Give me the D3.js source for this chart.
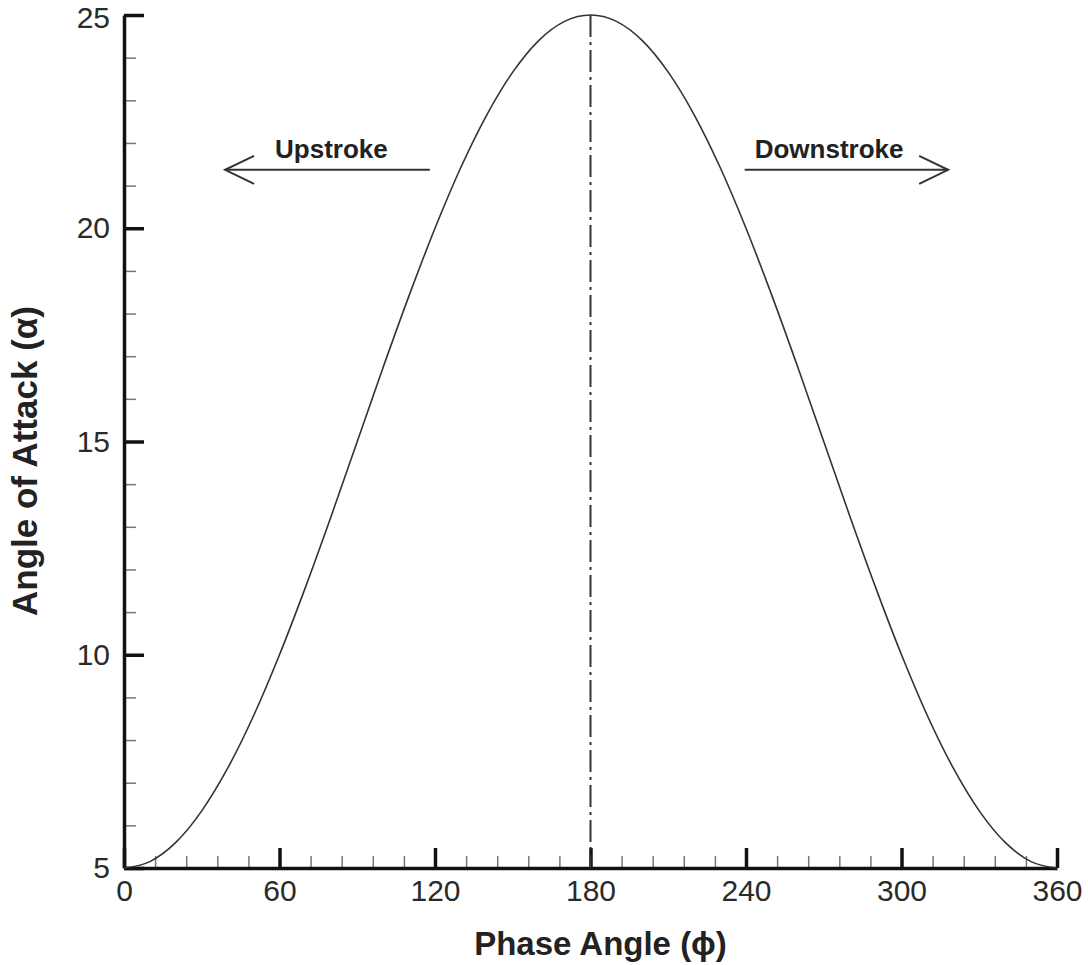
<!DOCTYPE html>
<html>
<head>
<meta charset="utf-8">
<script src="https://cdn.jsdelivr.net/npm/d3@7"></script>
<style>
  body { margin: 0; background: #fff; }
  svg { display: block; font-family: "Liberation Sans", Arial, sans-serif; }
</style>
</head>
<body>
<svg width="1088" height="965"></svg>
<script>
// phase angle (deg) vs angle of attack (deg)
var phase = [0, 10, 20, 30, 40, 50, 60, 70, 80, 90, 100, 110, 120, 130, 140, 150, 160, 170, 180,
             190, 200, 210, 220, 230, 240, 250, 260, 270, 280, 290, 300, 310, 320, 330, 340, 350, 360];
var alpha = [5.00, 5.15, 5.60, 6.34, 7.34, 8.57, 10.00, 11.58, 13.26, 15.00, 16.74, 18.42, 20.00, 21.43, 22.66, 23.66, 24.40, 24.85, 25.00,
             24.85, 24.40, 23.66, 22.66, 21.43, 20.00, 18.42, 16.74, 15.00, 13.26, 11.58, 10.00, 8.57, 7.34, 6.34, 5.60, 5.15, 5.00];

var xTicks = [0, 60, 120, 180, 240, 300, 360];
var yTicks = [5, 10, 15, 20, 25];

// stroke direction annotations: [label, from phase, to phase, alpha level]
var arrows = [
    ["Upstroke", 118, 39, 21.37],
    ["Downstroke", 239.5, 318, 21.37]
];
var peakPhase = 180;

var svg = d3.select("svg"),
    width = +svg.attr("width"),
    height = +svg.attr("height");

var margin = {top: 15, right: 31, bottom: 97, left: 124};

var x = d3.scaleLinear().domain([0, 360]).range([margin.left, width - margin.right]);
var y = d3.scaleLinear().domain([5, 25]).range([height - margin.bottom, margin.top]);

// minor ticks every 12 deg / 1 deg
var xMinor = d3.range(0, 361, 12).filter(function(v) { return v % 60 != 0; });
var yMinor = d3.range(5, 25.01, 1).filter(function(v) { return v % 5 != 0; });

svg.append("g")
    .attr("transform", "translate(0," + y(5) + ")")
    .call(d3.axisBottom(x).tickValues(xMinor).tickSize(-12).tickFormat(""))
    .call(function(g) {
        g.select(".domain").remove();
        g.selectAll("line").attr("stroke", "#777").attr("stroke-width", 1.5);
    });

svg.append("g")
    .attr("transform", "translate(" + x(0) + ",0)")
    .call(d3.axisLeft(y).tickValues(yMinor).tickSize(-12).tickFormat(""))
    .call(function(g) {
        g.select(".domain").remove();
        g.selectAll("line").attr("stroke", "#777").attr("stroke-width", 1.5);
    });

var xAxis = svg.append("g")
    .attr("transform", "translate(0," + y(5) + ")")
    .call(d3.axisBottom(x).tickValues(xTicks).tickSize(-20).tickSizeOuter(0).tickPadding(12));

var yAxis = svg.append("g")
    .attr("transform", "translate(" + x(0) + ",0)")
    .call(d3.axisLeft(y).tickValues(yTicks).tickSize(-20).tickSizeOuter(0).tickPadding(14));

[xAxis, yAxis].forEach(function(g) {
    g.select(".domain").attr("stroke", "#111").attr("stroke-width", 3.5);
    g.selectAll(".tick line").attr("stroke", "#111").attr("stroke-width", 3.5);
    g.selectAll(".tick text")
        .attr("fill", "#2a2a2a")
        .style("font-size", "30px")
        .style("font-family", "'Liberation Sans', Arial, sans-serif");
});
// keep the top label inside the picture
yAxis.selectAll(".tick text").filter(function(d) { return d == 25; }).attr("dy", "0.42em");

// dash-dot line at the top of the stroke
svg.append("line")
    .attr("x1", x(peakPhase)).attr("x2", x(peakPhase))
    .attr("y1", y(25)).attr("y2", y(5))
    .attr("stroke", "#333")
    .attr("stroke-width", 2)
    .attr("stroke-dasharray", "22,5,3,5");

var line = d3.line()
    .x(function(d, i) { return x(phase[i]); })
    .y(function(d, i) { return y(alpha[i]); })
    .curve(d3.curveMonotoneX);

svg.append("path")
    .datum(alpha)
    .attr("d", line)
    .attr("fill", "none")
    .attr("stroke", "#333")
    .attr("stroke-width", 1.6);

// arrows
arrows.forEach(function(a) {
    var x0 = x(a[1]), x1 = x(a[2]), yy = y(a[3]);
    var dir = x1 > x0 ? 1 : -1;
    var g = svg.append("g").attr("stroke", "#333").attr("stroke-width", 2).attr("fill", "none");
    g.append("line").attr("x1", x0).attr("x2", x1).attr("y1", yy).attr("y2", yy);
    g.append("path")
        .attr("d", "M" + (x1 - dir * 29) + "," + (yy - 14) + "L" + x1 + "," + yy + "L" + (x1 - dir * 29) + "," + (yy + 14));
    var tx = dir < 0 ? x1 + 50 : x0 + 10;
    svg.append("text")
        .attr("x", tx)
        .attr("y", yy - 12)
        .attr("fill", "#222")
        .style("font-size", "26px")
        .style("font-weight", "bold")
        .text(a[0]);
});

// axis titles
svg.append("text")
    .attr("x", x(180) + 10)
    .attr("y", 955)
    .attr("text-anchor", "middle")
    .attr("fill", "#222")
    .style("font-size", "33px")
    .style("font-weight", "bold")
    .text("Phase Angle (\u03d5)");

svg.append("text")
    .attr("transform", "translate(37,461) rotate(-90)")
    .attr("text-anchor", "middle")
    .attr("fill", "#222")
    .style("font-size", "35px")
    .style("font-weight", "bold")
    .text("Angle of Attack (\u03b1)");
</script>
</body>
</html>
